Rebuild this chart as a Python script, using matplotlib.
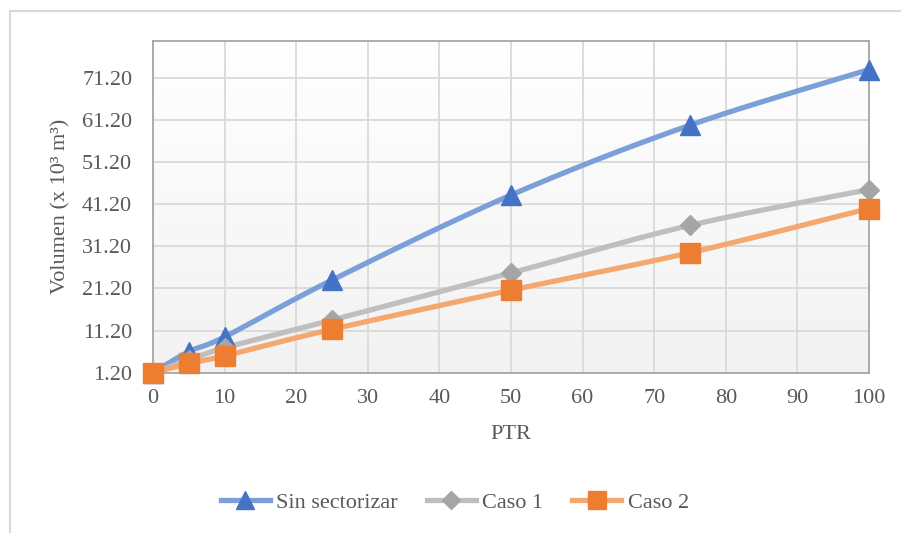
import numpy as np
import matplotlib.pyplot as plt
from matplotlib.patches import Rectangle
from matplotlib.lines import Line2D

# data
ptr = [0, 5, 10, 25, 50, 75, 100]
sin_sectorizar = [1.2, 6.2, 9.7, 23.2, 43.4, 60.0, 73.2]
caso_1 = [1.2, 4.2, 7.1, 13.7, 24.9, 36.2, 44.7]
caso_2 = [1.2, 3.4, 5.2, 11.5, 20.8, 29.7, 40.2]
y_ticks = [1.2, 11.2, 21.2, 31.2, 41.2, 51.2, 61.2, 71.2]
x_ticks = list(range(0, 101, 10))

series = [
    ("Sin sectorizar", sin_sectorizar, "#7a9fd9", "#4472c4", "^", 15),
    ("Caso 1", caso_1, "#bfbfbf", "#a5a5a5", "D", 10),
    ("Caso 2", caso_2, "#f4a76e", "#ed7d31", "s", 14),
]


def smooth(xs, ys, n=40):
    """Excel-like smoothed line: cubic bezier through the points."""
    p = np.column_stack([xs, ys]).astype(float)
    pts = [p[0]] + list(p) + [p[-1]]
    out = []
    for i in range(1, len(pts) - 2):
        p0, p1, p2, p3 = pts[i - 1], pts[i], pts[i + 1], pts[i + 2]
        c1 = p1 + (p2 - p0) / 6
        c2 = p2 - (p3 - p1) / 6
        t = np.linspace(0, 1, n)[:, None]
        b = ((1 - t) ** 3) * p1 + 3 * ((1 - t) ** 2) * t * c1 + 3 * (1 - t) * t ** 2 * c2 + t ** 3 * p2
        out.append(b)
    out = np.vstack(out)
    return out[:, 0], out[:, 1]


plt.rcParams['font.family'] = ['Liberation Serif', 'DejaVu Serif']
fig = plt.figure(figsize=(9.01, 5.33), dpi=100)
ax = fig.add_axes([0.1698, 0.3008, 0.7947, 0.6223])

# chart border
fig.patches.append(Rectangle((9.5 / 901, -0.1), 1.2, 1 - 11.5 / 533 + 0.1, transform=fig.transFigure,
                             fill=False, edgecolor="#d9d9d9", linewidth=1.5))

# gradient background of the plot area
grad = np.linspace(1, 0, 256).reshape(-1, 1)
ax.imshow(grad, extent=[0, 1, 0, 1], transform=ax.transAxes, aspect="auto",
          cmap=plt.matplotlib.colors.LinearSegmentedColormap.from_list("g", ["#f2f2f2", "#ffffff"]),
          zorder=0)

for name, vals, lc, mc, mk, ms in series:
    sx, sy = smooth(ptr, vals)
    ax.plot(sx, sy, color=lc, linewidth=3.8, zorder=3, solid_capstyle="round")
    ax.plot(ptr, vals, linestyle="none", marker=mk, color=mc, markersize=ms, zorder=4, clip_on=False)

ax.set_xlim(0, 100)
ax.set_ylim(1.2, 80)
ax.set_xticks(x_ticks)
ax.set_yticks(y_ticks)
ax.set_yticklabels(["%.2f" % v for v in y_ticks])
ax.grid(True, color="#d9d9d9", linewidth=1.3, zorder=1)
ax.set_axisbelow(True)
for s in ax.spines.values():
    s.set_color("#a6a6a6")
    s.set_linewidth(1.3)
ax.tick_params(length=0, labelsize=16, labelcolor="#595959")
ax.tick_params(axis="x", pad=12)
ax.tick_params(axis="y", pad=15)
ax.set_xlabel("PTR", fontsize=16, color="#595959", labelpad=12)
ax.set_ylabel("Volumen (x 10³ m³)", fontsize=16, color="#595959", labelpad=8)

handles = [Line2D([0], [0], color=lc, linewidth=3.8, marker=mk, markerfacecolor=mc,
                  markeredgecolor=mc, markersize=ms * 0.9) for _, _, lc, mc, mk, ms in series]
fig.legend(handles, [s[0] for s in series], loc="center", bbox_to_anchor=(0.505, 0.057), ncol=3,
           frameon=False, fontsize=16, labelcolor="#595959", handlelength=2.2, columnspacing=1.3,
           handletextpad=0.3)

fig.savefig("out.png", dpi=100)
